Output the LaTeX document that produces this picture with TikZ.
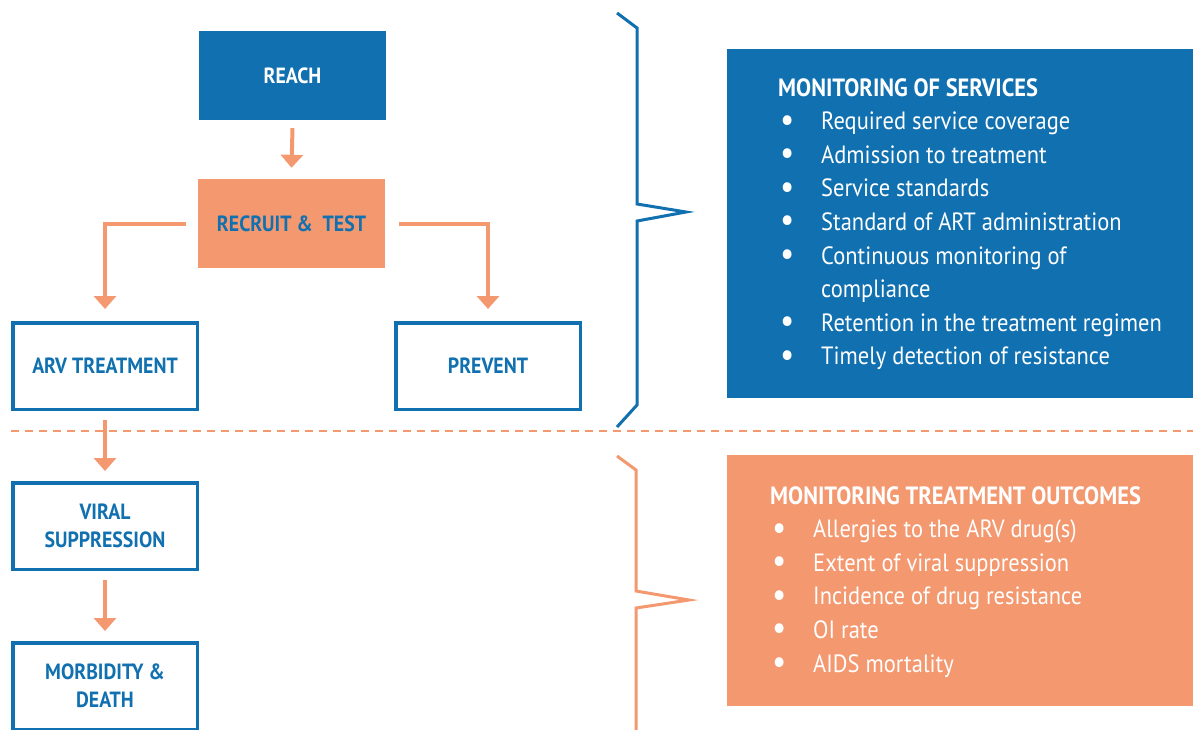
\documentclass[tikz,border=0pt]{standalone}
\usepackage{fontspec}
\setmainfont{PT Sans}[FakeStretch=0.9]
\usetikzlibrary{arrows.meta}
\definecolor{cblue}{RGB}{16,112,176}
\definecolor{csalmon}{RGB}{243,152,111}
\newcommand\blt{\makebox[43pt][l]{\hspace{2pt}\raisebox{-1.5pt}{\scalebox{1.4}{•}}}}
\newcommand\bltgap{\makebox[43pt][l]{}}
\begin{document}
\begin{tikzpicture}[x=1pt,y=-1pt,
  fillbox/.style={draw=none, minimum width=187pt, minimum height=89pt, inner sep=0pt,
    font=\fontsize{22}{28}\selectfont\bfseries, align=center},
  linebox/.style={draw=cblue, line width=3.5pt, fill=white, minimum width=184.5pt,
    minimum height=86.5pt, inner sep=0pt, text=cblue,
    font=\fontsize{22}{28}\selectfont\bfseries, align=center},
  arr/.style={draw=csalmon, line width=4pt, -{Triangle[width=22pt,length=13pt]}},
  brace/.style={line width=3pt, line join=miter, line cap=butt},
  panel/.style={draw=none, inner sep=0pt},
  paneltext/.style={anchor=north west, inner sep=0pt, text=white, align=left,
    font=\fontsize{25}{33.6}\selectfont}
]
\useasboundingbox (0,0) rectangle (1193,729);

% flow boxes
\node[fillbox, fill=cblue, text=white] (reach) at (292.5,75.5) {REACH};
\node[fillbox, fill=csalmon, text=cblue] (recruit) at (291.5,223.5) {RECRUIT \&\ \ TEST};
\node[linebox] (arv) at (105,366) {ARV TREATMENT};
\node[linebox] (prevent) at (488,366) {PREVENT};
\node[linebox] (viral) at (105,526) {VIRAL\\SUPPRESSION};
\node[linebox] (morb) at (105,686) {MORBIDITY \&\\DEATH};

% connectors
\draw[arr] ([yshift=-8pt]reach.south) -- ([yshift=11pt]recruit.north);
\draw[arr] ([xshift=-12pt]recruit.west) -| ([yshift=12pt]arv.north);
\draw[arr] ([xshift=14pt]recruit.east) -| ([yshift=12pt]prevent.north);
\draw[arr] ([yshift=-9pt]arv.south) -- ([yshift=10pt]viral.north);
\draw[arr] ([yshift=-9pt]viral.south) -- ([yshift=10pt]morb.north);

% dashed separator
\coordinate (dl) at (11,431);
\coordinate (dr) at (1193,431);
\draw[csalmon, line width=2pt, dash pattern=on 8pt off 6pt] (dl) -- (dr);

% braces
\draw[brace, cblue] (617,13) -- (637,28) -- (637,204) -- (686,212) -- (637,221) -- (637,405) -- (617,427);
\draw[brace, csalmon] (617,456) -- (636,470) -- (636,591) -- (689,600) -- (636,608) -- (636,735);

% panels
\node[panel, fill=cblue, minimum width=470pt, minimum height=349pt, anchor=north west] (svc) at (727,49) {};
\node[paneltext] (svctxt) at (778,78) {\textbf{MONITORING OF SERVICES}\\
\blt Required service coverage\\
\blt Admission to treatment\\
\blt Service standards\\
\blt Standard of ART administration\\
\blt Continuous monitoring of\\
\bltgap compliance\\
\blt Retention in the treatment regimen\\
\blt Timely detection of resistance};

\node[panel, fill=csalmon, minimum width=470pt, minimum height=251pt, anchor=north west] (out) at (727,455) {};
\node[paneltext] (outtxt) at (770,486) {\textbf{MONITORING TREATMENT OUTCOMES}\\
\blt Allergies to the ARV drug(s)\\
\blt Extent of viral suppression\\
\blt Incidence of drug resistance\\
\blt OI rate\\
\blt AIDS mortality};
\end{tikzpicture}
\end{document}
